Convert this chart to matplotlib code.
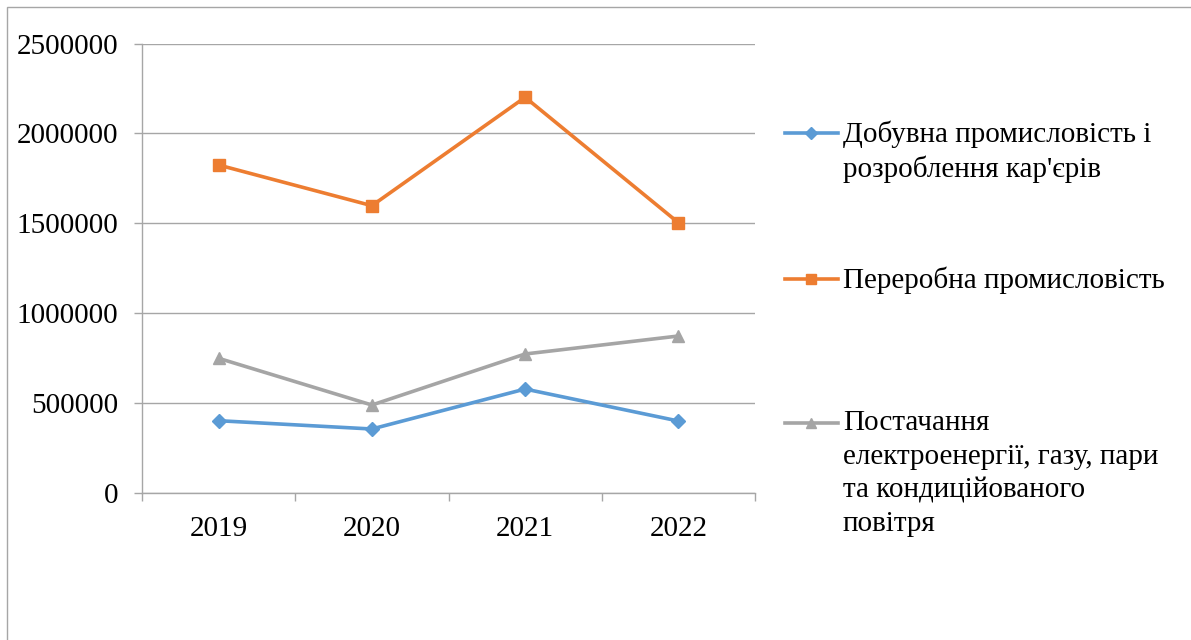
import matplotlib
matplotlib.use("Agg")
import matplotlib.pyplot as plt
from matplotlib.lines import Line2D
from matplotlib.patches import Rectangle
from matplotlib.ticker import FixedLocator, NullFormatter, FixedFormatter

# Data
years = ["2019", "2020", "2021", "2022"]
mining = [400700, 354500, 577000, 399000]
manufacturing = [1823800, 1597300, 2200600, 1502700]
energy = [748000, 488000, 772000, 872000]

series_labels = [
    "Добувна промисловість і\nрозроблення кар'єрів",
    "Переробна промисловість",
    "Постачання\nелектроенергії, газу, пари\nта кондиційованого\nповітря",
]
y_ticks = [0, 500000, 1000000, 1500000, 2000000, 2500000]

colors = ["#5B9BD5", "#ED7D31", "#A5A5A5"]
markers = ["D", "s", "^"]
marker_sizes = [7, 9, 9]
grid_color = "#A6A6A6"
font_size = 21

plt.rcParams["font.family"] = ["Liberation Serif", "DejaVu Serif"]

W, H = 1191, 640
fig = plt.figure(figsize=(W / 100, H / 100), dpi=100)

# Chart frame (top and left edges visible)
fig.patches.append(Rectangle((7 / W, -0.1), 1.2, 1 - 7 / H + 0.1,
                             transform=fig.transFigure, fill=False,
                             edgecolor="#A6A6A6", linewidth=1.0))

left, right, top, bottom = 142, 755, 43.5, 492.7
ax = fig.add_axes([left / W, 1 - bottom / H, (right - left) / W, (bottom - top) / H])

x = list(range(len(years)))
for vals, c, m, ms in zip([mining, manufacturing, energy], colors, markers, marker_sizes):
    ax.plot(x, vals, color=c, marker=m, markersize=ms, linewidth=2.6,
            markeredgecolor=c, markerfacecolor=c, zorder=3)

ax.set_xlim(-0.5, len(years) - 0.5)
ax.set_ylim(0, 2500000)

ax.yaxis.set_major_locator(FixedLocator(y_ticks))
ax.set_yticklabels([str(v) for v in y_ticks])
ax.grid(axis="y", color=grid_color, linewidth=1.0, zorder=0)
ax.set_axisbelow(True)

ax.xaxis.set_major_locator(FixedLocator([i - 0.5 for i in range(len(years) + 1)]))
ax.xaxis.set_major_formatter(NullFormatter())
ax.xaxis.set_minor_locator(FixedLocator(x))
ax.xaxis.set_minor_formatter(FixedFormatter(years))
ax.tick_params(axis="x", which="major", length=6, width=1.0, color=grid_color, direction="out")
ax.tick_params(axis="x", which="minor", length=0, pad=17, labelsize=font_size)
ax.tick_params(axis="y", length=6, width=1.0, color=grid_color, direction="out", pad=11,
               labelsize=font_size)

for s in ["top", "right"]:
    ax.spines[s].set_visible(False)
for s in ["left", "bottom"]:
    ax.spines[s].set_color(grid_color)
    ax.spines[s].set_linewidth(1.0)

# Legend drawn at the right of the plot
legend_y = [133, 279, 423]
for lab, c, m, ms, yy in zip(series_labels, colors, markers, marker_sizes, legend_y):
    fy = 1 - yy / H
    fig.lines.append(Line2D([785 / W, 838 / W], [fy, fy], transform=fig.transFigure,
                            color=c, linewidth=2.6))
    fig.lines.append(Line2D([811 / W], [fy], transform=fig.transFigure, color=c,
                            marker=m, markersize=ms * 0.85, markeredgecolor=c, markerfacecolor=c))
    fig.text(843 / W, 1 - (yy - 13) / H, lab, fontsize=font_size, va="top", ha="left",
             linespacing=1.38)

fig.savefig("out.png", dpi=100)
